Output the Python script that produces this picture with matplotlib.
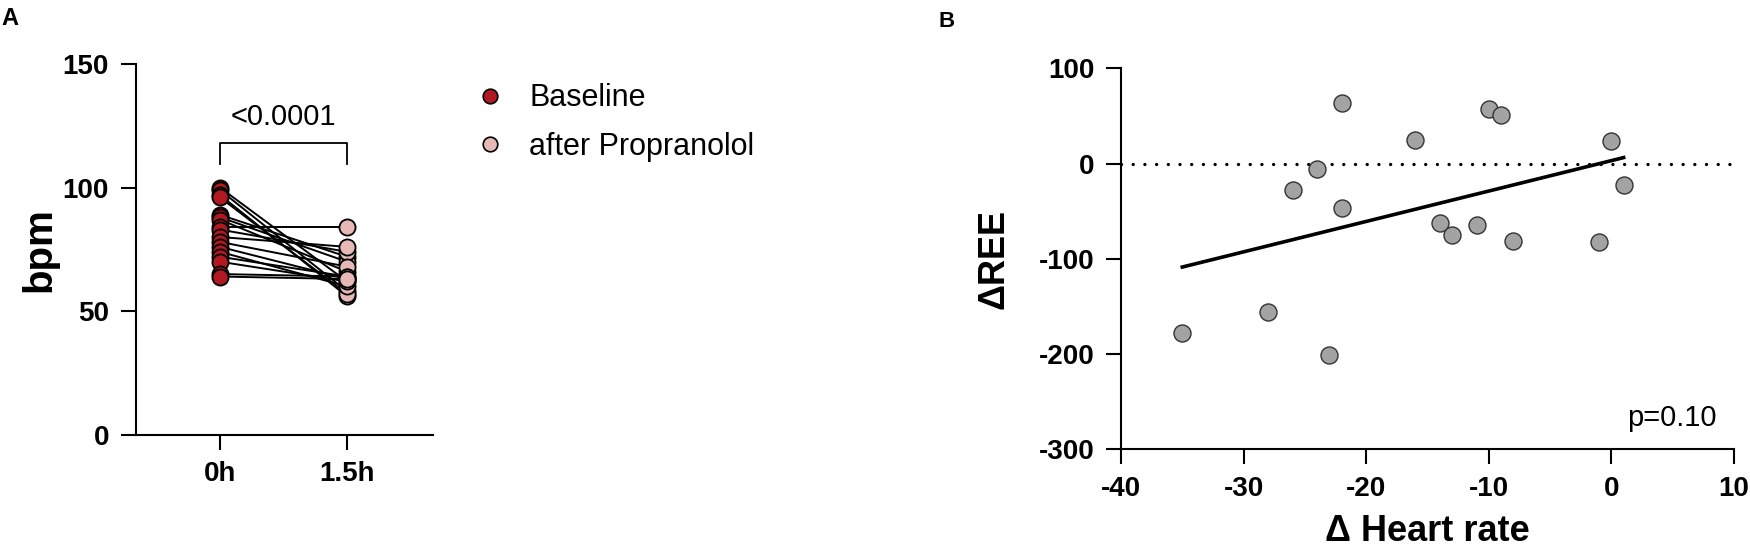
import numpy as np
import matplotlib
matplotlib.use("Agg")
import matplotlib.pyplot as plt
from matplotlib.lines import Line2D

plt.rcParams["font.family"] = ["Liberation Sans", "DejaVu Sans"]
plt.rcParams["axes.unicode_minus"] = False

# panel A: paired heart rate, baseline vs 1.5h after propranolol
timepoints = ["0h", "1.5h"]
hr_baseline = [100, 99, 97, 96, 89, 88, 87, 84, 83, 80, 78, 76, 74, 72, 70, 65, 64]
hr_after = [62, 58, 56, 57, 72, 70, 66, 84, 74, 76, 68, 63, 60, 64, 62, 64, 63]
p_paired = "<0.0001"

# panel B: change in heart rate vs change in REE
d_hr = [-35, -28, -26, -24, -23, -22, -22, -16, -14, -13, -11, -10, -9, -8, -1, 0, 1]
d_ree = [-178, -156, -28, -6, -201, 64, -47, 25, -62, -75, -64, 57, 51, -81, -82, 24, -22]
p_corr = "p=0.10"

RED = "#B0191F"
PINK = "#E6B8B6"
GREY = "#A3A3A3"

fig = plt.figure(figsize=(17.5, 5.49), dpi=100)
W, H = 1750, 549


def frame(x0, y0, x1, y1):
    return [x0 / W, 1 - y1 / H, (x1 - x0) / W, (y1 - y0) / H]


def style_axes(ax):
    for s in ["top", "right"]:
        ax.spines[s].set_visible(False)
    for s in ["left", "bottom"]:
        ax.spines[s].set_linewidth(1.5)
    ax.tick_params(width=1.5, length=11, labelsize=20, pad=8)
    for lab in ax.get_xticklabels() + ax.get_yticklabels():
        lab.set_fontweight("bold")


# ---- A ----
axA = fig.add_axes(frame(135.5, 64, 433, 434.7))
for b, a in zip(hr_baseline, hr_after):
    axA.plot([0, 1], [b, a], color="black", lw=1.4, zorder=2)
axA.scatter(np.zeros(len(hr_baseline)), hr_baseline, s=135, color=RED,
            edgecolor="black", linewidth=1.3, zorder=3)
axA.scatter(np.ones(len(hr_after)), hr_after, s=135, color=PINK,
            edgecolor="black", linewidth=1.3, zorder=3)
axA.plot([0, 0, 1, 1], [109.5, 118.2, 118.2, 109.5], color="black", lw=1.3)
axA.text(0.5, 125.5, p_paired, ha="center", va="baseline", fontsize=21)
axA.set_xlim(-0.665, 1.677)
axA.set_ylim(0, 150)
axA.set_yticks([0, 50, 100, 150])
axA.set_xticks([0, 1])
axA.set_xticklabels(timepoints)
axA.set_ylabel("bpm", fontsize=29, fontweight="bold")
axA.yaxis.set_label_coords(-0.26, 0.5)
style_axes(axA)

handles = [
    Line2D([], [], marker="o", ls="none", markersize=10.5, markerfacecolor=RED,
           markeredgecolor="black", markeredgewidth=1.2),
    Line2D([], [], marker="o", ls="none", markersize=10.5, markerfacecolor=PINK,
           markeredgecolor="black", markeredgewidth=1.2),
]
fig.legend(handles, ["Baseline", "after Propranolol"], loc="upper left",
           bbox_to_anchor=(462 / W, 1 - 71 / H), frameon=False, fontsize=22,
           handlelength=1.0, handletextpad=0.8, labelspacing=0.62,
           borderaxespad=0)

# ---- B ----
axB = fig.add_axes(frame(1121, 68.3, 1734, 449.3))
axB.axhline(0, color="black", lw=2.4, ls=(0, (0.01, 3.5)),
            dash_capstyle="round", zorder=1)
slope, icpt = np.polyfit(d_hr, d_ree, 1)
xl = np.array([min(d_hr), max(d_hr)])
axB.plot(xl, slope * xl + icpt, color="black", lw=2.6, zorder=2)
axB.scatter(d_hr, d_ree, s=150, color=GREY, edgecolor="#333333",
            linewidth=1.0, zorder=3)
fig.text(1717 / W, 1 - 426 / H, p_corr, fontsize=21, ha="right", va="baseline")
axB.set_xlim(-40, 10)
axB.set_ylim(-300, 100)
axB.set_xticks(range(-40, 11, 10))
axB.set_yticks(range(-300, 101, 100))
axB.set_xlabel("Δ Heart rate", fontsize=26, fontweight="bold", labelpad=9)
axB.set_ylabel("ΔREE", fontsize=26, fontweight="bold")
axB.yaxis.set_label_coords(-0.179, 0.5)
style_axes(axB)

fig.text(1 / W, 1 - 7 / H, "A", fontsize=17, fontweight="bold", va="top")
fig.text(938 / W, 1 - 11 / H, "B", fontsize=16, fontweight="bold", va="top")

fig.savefig("out.png", dpi=100)
